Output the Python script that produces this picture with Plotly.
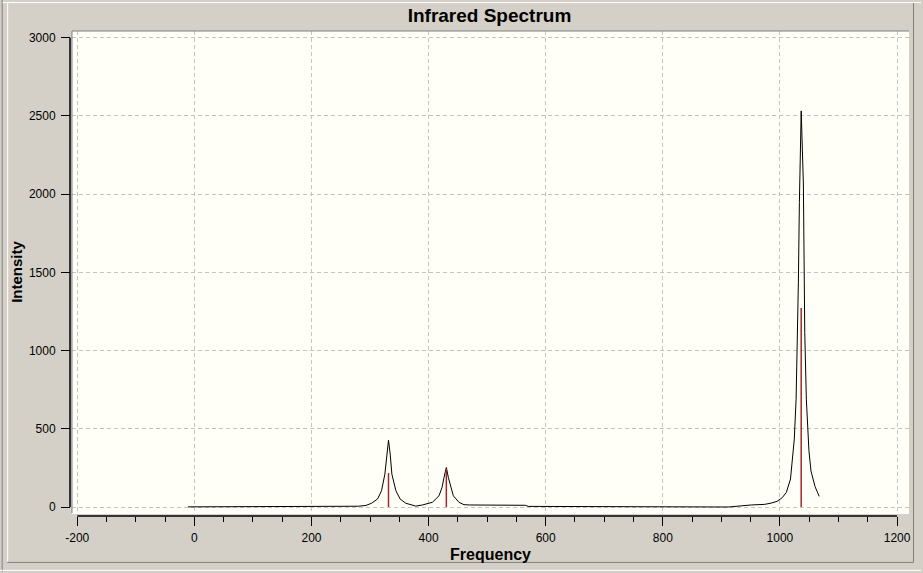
import plotly.graph_objects as go

# ---- data ----
spec_x = [-11, 100, 200, 270, 280, 293, 302.5, 312.8, 319.6, 325.3, 328.7, 331.5, 334.4, 337.3,
          344.1, 351.4, 361.1, 372, 378, 389.4, 406.4, 417.8, 423, 426.3, 430.3, 433.7, 437.7,
          442.2, 451.9, 460.4, 470, 565, 570, 784, 790, 912, 951, 974, 985, 995, 1004, 1011,
          1018, 1021.5, 1024.5, 1027.6, 1030.5, 1031.5, 1033.2, 1034.9, 1036.3, 1040, 1041.2,
          1042.4, 1045.1, 1049.5, 1053, 1056, 1060, 1064, 1067]
spec_y = [1, 1, 2, 3, 5, 10, 24, 51, 104, 210, 338, 427, 338, 210,
          104, 51, 24, 10, 6, 13, 30, 72, 126, 189, 253, 189, 126,
          72, 30, 15, 13, 11, 4, 3, 0, 0, 13, 17, 25, 36, 60, 94,
          179, 306, 434, 689, 1116, 1437, 1946, 2373, 2532, 2071, 1556,
          1116, 689, 360, 230, 180, 130, 95, 68]

stick_x = [331.5, 430.3, 1036.3]
stick_y = [217, 245, 1272]

x_ticks = [-200, 0, 200, 400, 600, 800, 1000, 1200]
x_labels = ["-200", "0", "200", "400", "600", "800", "1000", "1200"]
y_ticks = [0, 500, 1000, 1500, 2000, 2500, 3000]
y_labels = ["0", "500", "1000", "1500", "2000", "2500", "3000"]

# ---- geometry (pixels) ----
W, H = 923, 573
ML, MR, MT, MB = 70, 12, 31, 56
PW = W - ML - MR
PH = H - MT - MB


def px(p):
    return (p - ML) / PW


def py(p):
    return (H - MB - p) / PH


sx, sy = [], []
for xv, yv in zip(stick_x, stick_y):
    sx += [xv, xv, None]
    sy += [0, yv, None]

fig = go.Figure()
fig.add_trace(go.Scatter(x=spec_x, y=spec_y, mode="lines",
                         line=dict(color="black", width=1), hoverinfo="skip"))
fig.add_trace(go.Scatter(x=sx, y=sy, mode="lines",
                         line=dict(color="#A0282C", width=1.5), hoverinfo="skip"))

font = "Liberation Sans, Arial, sans-serif"

fig.update_layout(
    width=W, height=H,
    margin=dict(l=ML, r=MR, t=MT, b=MB, pad=0),
    paper_bgcolor="#D4D0C8",
    plot_bgcolor="#FFFFF7",
    showlegend=False,
    font=dict(family=font, size=12, color="black"),
    title=dict(text="<b>Infrared Spectrum</b>", x=0.5, xref="paper", xanchor="center",
               y=1 - 15 / H, yref="container", yanchor="middle",
               font=dict(family=font, size=19, color="black")),
    xaxis=dict(
        domain=[px(72), 1], range=[-209, 1220.4], anchor="free", position=0,
        tickvals=x_ticks, ticktext=x_labels, ticks="outside", ticklen=9, tickwidth=1,
        tickcolor="black",
        minor=dict(dtick=50, tick0=0, ticks="outside", ticklen=5, tickwidth=1,
                   tickcolor="black", showgrid=False),
        showgrid=True, gridcolor="#C4C4C4", griddash="4px,3px", gridwidth=1,
        zeroline=False, showline=False, ticklabelstandoff=2,
        tickfont=dict(family=font, size=12),
        title=dict(text="<b>Frequency</b>", standoff=4, font=dict(family=font, size=16)),
    ),
    yaxis=dict(
        domain=[py(514), 1], range=[-38.3, 3042.7], anchor="free", position=0,
        tickvals=y_ticks, ticktext=y_labels, ticks="outside", ticklen=9, tickwidth=1,
        tickcolor="black",
        showgrid=True, gridcolor="#C4C4C4", griddash="4px,3px", gridwidth=1,
        zeroline=False, showline=False, ticklabelstandoff=3,
        tickfont=dict(family=font, size=12),
        title=dict(text="<b>Intensity</b>", standoff=1, font=dict(family=font, size=15)),
    ),
)

shapes = []
# axis lines spanning the labelled range
shapes.append(dict(type="line", xref="x", yref="paper", x0=-200, x1=1200, y0=0, y1=0,
                   line=dict(color="black", width=1.5)))
shapes.append(dict(type="line", xref="paper", yref="y", x0=0, x1=0, y0=0, y1=3000,
                   line=dict(color="black", width=1.5)))
# sunken border of the plot area
shapes.append(dict(type="line", xref="paper", yref="paper", x0=px(72), x1=1, y0=1, y1=1,
                   line=dict(color="#808080", width=1)))
shapes.append(dict(type="line", xref="paper", yref="paper", x0=px(72), x1=px(72),
                   y0=py(514), y1=1, line=dict(color="#808080", width=1)))
shapes.append(dict(type="line", xref="paper", yref="paper", x0=px(72), x1=1,
                   y0=py(514.5), y1=py(514.5), line=dict(color="white", width=1)))
# outer panel frame
shapes.append(dict(type="line", xref="paper", yref="paper", x0=px(2), x1=px(2),
                   y0=py(0), y1=py(573), line=dict(color="#808080", width=1)))
shapes.append(dict(type="line", xref="paper", yref="paper", x0=px(7.5), x1=px(7.5),
                   y0=py(3), y1=py(563), line=dict(color="white", width=1)))
shapes.append(dict(type="line", xref="paper", yref="paper", x0=px(2.5), x1=px(923),
                   y0=py(2.5), y1=py(2.5), line=dict(color="white", width=1)))
shapes.append(dict(type="line", xref="paper", yref="paper", x0=px(7), x1=px(915.5),
                   y0=py(563.5), y1=py(563.5), line=dict(color="#808080", width=1)))
shapes.append(dict(type="line", xref="paper", yref="paper", x0=px(915.5), x1=px(915.5),
                   y0=py(3), y1=py(563.5), line=dict(color="#808080", width=1)))
shapes.append(dict(type="line", xref="paper", yref="paper", x0=px(0), x1=px(923),
                   y0=py(571.5), y1=py(571.5), line=dict(color="white", width=1)))
fig.update_layout(shapes=shapes)

fig.write_html(
    "out.html",
    config={"displayModeBar": False},
    post_script="document.body.style.margin='0';document.body.style.overflow='hidden';",
)
